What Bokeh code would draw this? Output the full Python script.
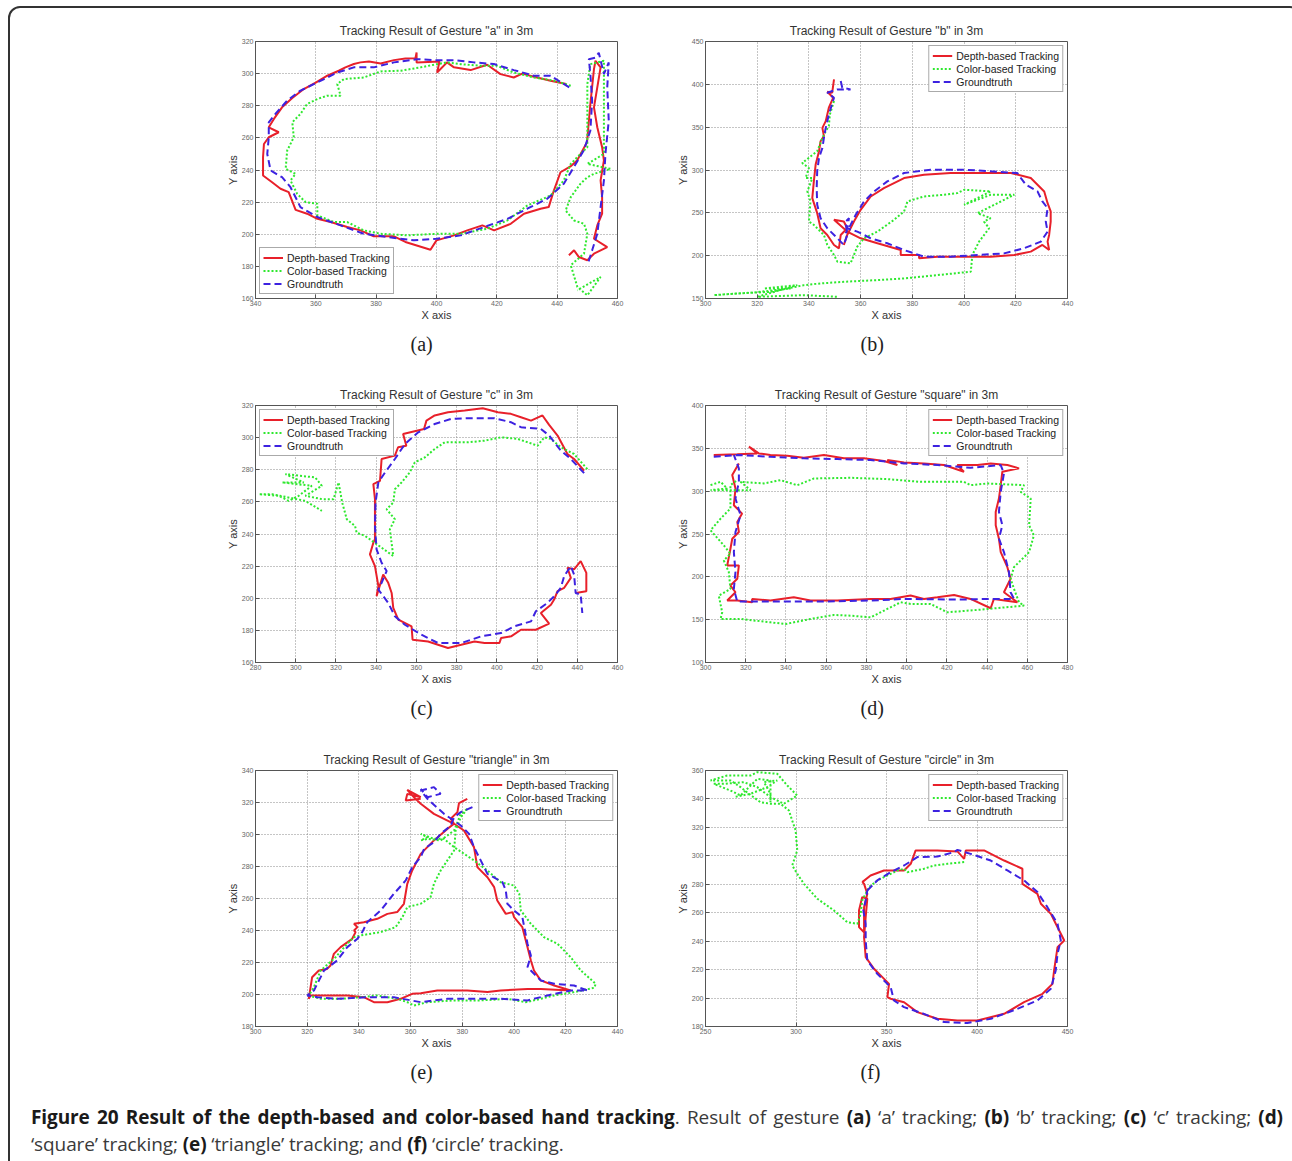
from bokeh.plotting import figure
from bokeh.layouts import column, row
from bokeh.models import Range1d, Legend, LegendItem, Title, Spacer, Div, FixedTicker
from bokeh.embed import file_html
from bokeh.resources import INLINE

# ---------------- data ----------------
a_depth = [(443,293.5),(437.8,295.6),(432.3,298),(428.4,300),(425.6,297.6),(421.2,299.7),(416.8,305.5),(411.3,302.2),(405.8,303.9),(403.5,307),(400.2,300.7),(401,307.5),(393.4,307),(393.4,313.2),(393,309.5),(389.7,309.4),(385.9,308.4),(381.5,306.3),(377.6,307.6),(374.8,307),(372.6,306),(369.8,303.9),(367.6,301.8),(363.8,298.7),(360.1,294.5),(356,290.4),(352.2,284.8),(348.8,279),(346.1,271.8),(344.4,266.6),(347.7,263.5),(344.4,260.4),(342.8,256.2),(342.5,248),(342.5,236.6),(345.5,232.4),(348.3,228.3),(351,226.2),(353.3,215.2),(357.1,212.8),(360.5,209.6),(364.9,207.6),(370.4,204.5),(374.8,202.4),(379.2,198.7),(385.9,198.7),(389.7,195.2),(398,190.4),(400,196.2),(405.8,199.3),(410.2,202.4),(415.2,205.5),(419.1,202.4),(424.6,206.5),(429,212.8),(434.5,215.9),(437.2,216.9),(438.9,227.2),(441.1,238.6),(444.4,242.2),(446.6,245.9),(449.9,257.3),(451,281.1),(452.2,302.8),(452.7,308),(454.4,303.9),(452.2,279),(453.3,266.6),(454.9,254.2),(455.5,245.9),(454.4,233.5),(454.9,223.1),(454.9,212.8),(453.3,205.5),(452.2,197.2),(456.6,192),(452.2,187.9),(450,183.8),(447.2,185.8),(445.6,190),(443.9,186.9)]
a_color = [(444.5,292.5),(439,295.6),(432.3,297.6),(425.6,300.7),(420,304.9),(414.6,304.9),(408,305.9),(403.5,307),(400.2,305.9),(394.7,303.9),(388.1,301.8),(381.5,301.4),(375.9,297.6),(369.3,296.6),(367.1,293.5),(368.2,286.3),(363.8,286.3),(360.5,284.2),(357.1,281.1),(354.9,274.9),(352.2,269.7),(352.7,260.4),(350.5,252.1),(350,240.7),(353.3,237.6),(351.6,233.5),(353.8,225.2),(356.6,220),(360.5,219),(360.5,211.7),(366,207.6),(370.4,207.6),(375.9,202.4),(381.5,200.3),(390.3,199.3),(400.2,200.3),(408,200.3),(416.8,203.4),(423.5,208.6),(430.1,217.9),(437.8,224.1),(442.2,233.5),(444.5,243.8),(447.7,250),(450,254.2),(450,272.8),(450,293.5),(451,305.9),(455.5,308),(455.5,285.2),(455.5,250),(450,243.8),(457.7,240.7),(452.2,237.6),(450,235.5),(447.7,231.4),(444.5,223.1),(442.8,214.8),(445.6,208.6),(448.9,206.5),(450,200.3),(448.9,187.9),(444.5,180.7),(446.7,167.2),(450,162),(454.4,173.4),(446.7,165.1)]
a_truth = [(444,291.4),(437.8,298.7),(432.3,298.7),(425.6,302.2),(419,306),(412.4,307),(405.8,308.4),(399.1,308.4),(393.6,309),(385.9,307),(379.2,303.9),(372.6,303.9),(367.1,300.7),(360.5,294.5),(354.9,289.4),(350.5,283.2),(346.6,274.9),(344.4,269.7),(344.4,260.4),(343.9,250),(345,239.7),(348.8,235.5),(351.6,229.3),(354.9,216.9),(360.5,210.7),(368.2,205.5),(375.9,200.3),(383.6,198.3),(392.5,196.2),(400,197.2),(408,199.3),(415.8,204.5),(423.5,209.6),(430.1,215.9),(436.7,222.1),(442.2,231.4),(445.5,241.7),(448.8,252.1),(451,264.5),(451.6,283.1),(451,299.7),(450.5,309),(452.7,310),(453.8,313),(455.5,299.7),(457.1,307),(456.6,291.4),(457.1,270.7),(456,250),(455.5,233.5),(454.4,216.9),(453.3,200.3),(451.6,190),(450,180.7)]

b_depth = [(349.7,405.9),(349,390.2),(347.1,391.4),(349.4,384.4),(347.7,372.7),(346.5,357),(345.2,349.2),(345.8,339.5),(344.5,333.6),(343.9,321.9),(342.6,306.3),(341.9,286.7),(341.3,267.2),(343.2,249.6),(344.5,232),(347.1,224.2),(349.7,212.5),(351.6,208.6),(352.3,224.2),(354.8,232),(353.5,239.8),(349.7,241.8),(354.8,228.1),(360,220.3),(366.5,214.5),(375.5,206.6),(375.5,200.8),(382.6,200.8),(382.6,196.9),(389.7,198.8),(400,198.8),(410.3,198.8),(419.4,200.8),(425.8,204.7),(430.3,212.5),(432.9,206.6),(432.3,216.4),(432.9,224.2),(433.5,239.8),(433.5,251.6),(432.3,261.3),(431,275),(425.8,290.6),(418.1,296.5),(407.7,296.5),(394.8,296.5),(384.5,294.5),(376.8,290.6),(369,278.9),(363.9,269.1),(360,253.5),(357.4,239.8),(354.8,224.2),(353.5,212.5)]
b_color = [(349.7,380.5),(348.1,364.8),(347.7,351.2),(345.8,341.4),(343.2,321.9),(337.4,308.2),(340,302.3),(338.7,290.6),(341.3,290.6),(339.4,275),(340.6,263.3),(340,239.8),(341.9,235.9),(345.8,224.2),(347.1,212.5),(349.7,200.8),(351,193),(356.1,191),(357.4,200.8),(358.7,210.5),(361.3,220.3),(366.5,228.1),(372.9,241.8),(376.8,251.6),(378.1,263.3),(384.5,269.1),(392.3,271.1),(397.4,273),(400,276.9),(410.3,275),(400,259.4),(410.3,271.1),(419.4,271.1),(405.2,249.6),(410.3,243.8),(407.7,239.8),(409.7,232),(405.8,216.4),(403.2,200.8),(402.6,181.3),(389.7,177.3),(376.8,173.4),(366.5,171.5),(353.5,169.5),(344.5,167.6),(338.1,165.6),(325.2,157.8),(312.3,155.9),(303.2,153.9),(318.7,157),(332.9,161.7),(322.6,161.7),(335.5,165.6),(320,152),(338.1,153.9),(351,152)]
b_truth = [(352.3,403.9),(352.9,396.1),(356.1,394.1),(351,394.1),(347.1,390.2),(349.7,384.4),(347.7,364.8),(346.5,349.2),(345.8,337.5),(345.2,325.8),(343.9,314.1),(343.2,298.4),(343,278.9),(343.2,259.4),(344.5,243.8),(347.1,232),(351,220.3),(353.5,212.5),(354.8,224.2),(354.2,239.8),(355.5,243.8),(354.8,232),(358.7,228.1),(363.9,220.3),(370.3,214.5),(376.8,206.6),(384.5,198.8),(394.8,198.8),(405.2,200.8),(415.5,202.7),(423.2,208.6),(429.7,216.4),(432.3,228.1),(431.6,239.8),(432.3,255.5),(430.3,263.3),(428.4,275),(423.9,282.8),(422,290.6),(420.6,296.5),(410.3,298.4),(400,300.4),(387.1,300.4),(376.8,296.5),(370.3,286.7),(365.2,275),(361.3,263.3),(358.1,247.7),(356.1,235.9),(354.2,226.2)]

c_depth = [(443.4,279.4),(438.4,286.7),(435.1,289.8),(430.2,301.3),(426,307.9),(422.7,313.8),(417,310.6),(412,312.7),(407,314.8),(400.5,315.8),(393,318.3),(384,316.9),(375.7,315.8),(369.1,313.8),(365,310.6),(363.8,305.4),(353.4,302.3),(355,295),(350.9,294),(349.3,288.8),(342.7,286.7),(341.9,273.1),(338.6,271),(339.4,261.7),(339.4,249.2),(339.4,236.7),(338.6,234.6),(336.9,227.3),(339.4,220),(341.1,207.5),(340.2,201.3),(343.5,214.8),(346,209.6),(347.7,203.3),(348.5,194),(351,186.7),(357.6,182.5),(358.1,174.2),(365.8,173.1),(375.7,169),(382.3,171),(388.9,173.1),(393.9,172.1),(401.3,172.1),(402.1,175.2),(407.1,176.3),(412,180.4),(419.4,180.4),(426,184.2),(421.9,190.8),(426.9,196),(428.5,199.2),(430.2,204.4),(433.5,206.5),(436.8,212.7),(435.1,219),(438.4,218),(441.7,223.1),(444.5,215.8),(444.5,204.4),(439.2,203.3)]
c_color = [(445,280.4),(438.4,289.8),(431.8,294),(426.9,299.2),(423.6,300.2),(420.3,295),(415.3,297.1),(410.4,299.2),(402.1,300.2),(393.9,298.1),(385.6,297.1),(374.1,297.1),(369.1,292.9),(364.2,287.7),(359.2,284.6),(356.7,278.3),(352.6,272.1),(349.3,267.9),(348.5,259.6),(345.2,255.4),(349.3,249.2),(346.8,242.9),(348.5,226.3),(334.5,238.8),(330.3,240.8),(329.5,245),(325.4,249.2),(323.1,259.6),(321.3,272.1),(318.8,261.7),(313,261.7),(304.8,263.8),(313,270),(309.7,275.2),(294.9,277.3),(304,272.1),(293.2,272.1),(308,270),(301.5,263.8),(296.5,260.6),(291.6,263.8),(281.7,264.8),(288.3,264.8),(304.8,260.6),(313,254.4)]
c_truth = [(443.4,277.9),(436.8,286.7),(431.8,291.9),(426,301.3),(421.9,305.4),(412,306.5),(407,309.6),(398.8,312.1),(385.6,312.1),(377.4,311.7),(369.1,308.5),(360.9,303.3),(354.3,296),(349.3,286.7),(344.4,278.3),(341.1,272.1),(339.7,259.6),(339.4,245),(340.2,230.4),(342.7,222.1),(345.2,216.9),(342.7,209.6),(341.1,205.4),(346,197.1),(349.3,188.8),(354.3,183.5),(362.5,177.3),(370.8,172.1),(382.3,172.1),(392.2,176.3),(402.1,178.3),(408.7,182.5),(417,185.6),(419.4,191.9),(425.2,197.1),(429.3,202.3),(431.8,206.5),(433.5,213.8),(436.8,220),(438.4,214.8),(439.2,203.3),(441.7,202.3),(442.5,190.8)]

d_depth = [(304.1,342.2),(315.8,343),(325.7,344.1),(321.6,352),(326.5,344.1),(332.3,342.2),(340.6,341.4),(348.9,339.1),(358.9,342.2),(368.8,338.3),(378.8,338.3),(388.7,335.2),(395.4,330.5),(390.4,336.3),(398.7,333.6),(408.6,332.4),(418.6,330.5),(428.5,322.7),(425.2,330.5),(435.2,330.5),(441.8,332.4),(450.1,330.5),(455.9,326.6),(447.6,322.7),(446.8,307),(445.9,291.4),(444.3,275.8),(444.3,260.2),(445.9,244.5),(446.8,228.9),(450.1,211.3),(451.7,197.7),(448.4,182),(455.1,170.3),(443.4,174.2),(441.8,163.3),(431.8,174.2),(423.6,178.9),(415.3,176.2),(408.6,174.2),(402,178.1),(392,174.2),(382.1,174.2),(365.5,172.3),(352.2,172.3),(343.9,176.2),(332.3,172.3),(323.2,174.2),(323.2,170.3),(315.8,172.3),(310.8,172.3),(314.9,182),(312.4,189.8),(315.8,197.7),(316.6,213.3),(310.8,213.3),(312.4,232.8),(313.3,244.5),(316.6,252.3),(315.8,264.1),(318.2,273.8),(314.1,283.6),(314.9,303.1),(313.3,318.8),(316.6,332.4)]
d_color = [(302.5,307),(307.5,310.9),(310.8,303.1),(302.5,301.2),(322.4,301.2),(317.4,310.9),(329,309),(337.3,312.9),(345.6,307),(353.9,314.8),(372.1,315.6),(390.4,314.1),(406.9,310.9),(428.5,310.9),(431.8,307),(440.1,309),(458.4,307),(456.7,299.2),(461.7,291.4),(460.9,260.2),(463.3,248.4),(460.9,228.9),(453.4,211.3),(451.7,197.7),(453.4,185.9),(455.9,170.3),(458.4,166.4),(436.8,161.7),(420.2,158.6),(411.9,168.4),(402,168.4),(397,170.3),(390.4,162.5),(382.1,152.7),(372.1,154.7),(363.8,155.5),(352.2,150.8),(339.8,144.9),(332.3,146.9),(317.4,150.8),(307.5,150.8),(308.3,158.6),(306.6,178.1),(312.4,185.9),(311.6,205.5),(309.1,219.1),(312.4,227),(309.1,236.7),(302.5,254.3),(307.5,268),(312.4,279.7),(312.4,307),(315.8,312.9)]
d_truth = [(304.1,340.2),(315.8,342.2),(332.3,340.2),(348.9,338.3),(365.5,337.5),(382.1,336.3),(398.7,332.4),(415.3,330.5),(431.8,327.3),(446.8,330.5),(448.4,320.7),(446.8,299.2),(445.9,275.8),(447.6,260.2),(445.9,244.5),(448.4,228.9),(450.9,205.5),(451.7,182),(453.4,174.2),(441.8,174.2),(425.2,173.4),(398.7,174.2),(382.1,172.3),(357.2,171.1),(332.3,171.1),(315.8,171.1),(314.1,185.9),(314.9,205.5),(314.1,228.9),(314.9,252.3),(317.4,271.9),(314.9,291.4),(316.6,310.9),(316.6,326.6),(314.1,342.2)]

e_depth = [(381.9,322.3),(378.7,319.6),(378.1,314),(375.5,309.8),(376.8,306.7),(380.6,302.5),(384.5,292.1),(385.8,279.6),(389.7,273.3),(392.3,267.1),(393.5,258.8),(396.8,250.4),(399.4,251.5),(400,248.3),(403.2,242.1),(405.2,229.6),(406.5,221.3),(407.7,215),(410.3,208.8),(415.5,205.6),(421.9,202.5),(410.3,203.5),(405.2,203.5),(394.8,202.5),(389.7,201.5),(381.9,202.5),(376.8,202.5),(370.3,202.5),(363.9,200.8),(360.6,200.4),(356.1,197.3),(351,195.2),(345.8,195.2),(341.9,198.3),(335.5,199.4),(327.7,199.4),(321.3,199.4),(320.6,197.3),(321.9,210.8),(324.5,215),(327.7,216),(329,218.1),(330.3,225.4),(332.9,229.6),(337.4,234.8),(338.7,239),(338.1,240),(339.4,242.1),(338.1,244.2),(341.9,245.2),(347.1,247.3),(351,250.4),(354.8,251.5),(357.4,256.7),(358.7,269.2),(360.6,277.5),(363.9,287.9),(369,296.3),(374.2,303.5),(376.8,306.7),(369,312.9),(363.9,319.2),(361.3,323.3),(358.7,327.9),(363.9,323.3),(358.7,325.4),(358.1,321.3),(363.9,322.3)]
e_color = [(381.9,316),(379.4,310.8),(377.4,302.5),(376.8,290),(374.2,283.8),(371.6,277.5),(369,269.2),(367.7,260.8),(363.9,256.7),(358.7,254.6),(356.8,248.3),(354.2,242.1),(348.4,239),(340.6,236.9),(338.1,235.8),(335.5,231.7),(331,223.3),(325.2,215),(322.6,204.6),(320.6,199.4),(325.2,197.3),(332.9,197.3),(340.6,198.3),(347.1,199.4),(354.8,197.3),(358.7,195.2),(361.3,193.1),(366.5,195.2),(376.8,196.3),(387.1,196.3),(397.4,197.3),(404.5,195.2),(410.3,197.3),(415.5,199.4),(423.2,201.5),(431,204.2),(431.6,206.7),(425.8,215),(421.9,223.3),(416.8,231.7),(411.6,235.8),(406.5,244.2),(402.6,252.5),(402,262.9),(400,268.1),(394.8,270.2),(389.7,277.5),(384.5,283.8),(376.8,292.1),(372.9,297.3),(369,297.3),(363.9,300.4),(366.5,298.3),(363.9,296.3),(366.5,297.3),(371.6,296.3),(376.8,302.5),(379.4,312.9),(381.9,316)]
e_truth = [(383.9,317.1),(379.4,314),(376.8,310.8),(375.5,305.6),(371.6,300.4),(369,295.2),(365.2,291),(363.9,285.8),(360.6,279.6),(358.1,271.3),(353.5,262.9),(348.4,252.5),(343.2,245.2),(341.3,239),(339.4,234.8),(335.5,229.6),(331.6,221.3),(326.5,215),(323.9,206.7),(322.6,202.5),(320,199.4),(323.9,198.3),(331.6,197.3),(343.2,198.3),(353.5,198.3),(363.9,195.2),(374.2,197.3),(384.5,197.3),(394.8,197.3),(405.2,196.3),(412.9,199.4),(421.9,202.5),(428.4,202.5),(423.2,205.6),(415.5,206.7),(410.3,208.8),(405.2,217.1),(406.5,224.4),(405.2,231.7),(403.2,248.3),(400,252.5),(397.4,256.7),(396.8,265),(395.5,270.2),(389.7,275.4),(387.1,283.8),(384.5,292.1),(382.6,300.4),(379.4,305.6),(372.9,312.9),(366.5,322.3),(363.9,327.5),(369,329.6),(371.6,325.4),(366.5,323.3),(363.9,328.5)]

f_depth = [(336.6,281.5),(341.2,286.2),(348.6,289.7),(359.7,289.7),(363.4,294.4),(366.1,303.8),(378.1,303.8),(389.2,303.1),(392.9,297.9),(393.8,303.8),(403.9,303.8),(415,296.7),(425.1,290.9),(425.1,280.3),(433.4,273.3),(435.3,266.3),(440.8,259.2),(445.4,247.5),(448.2,240.5),(444.5,235.8),(442.6,219.4),(441.7,210),(436.2,203),(426,197.1),(415,188.9),(400.2,184.2),(389.2,184.2),(378.1,185.4),(367,190.1),(359.7,197.1),(352.3,199.5),(350.5,200.6),(351.4,210),(347.7,214.7),(343.1,220.6),(338.5,228.8),(337.6,242.8),(338.5,256.9),(339.4,269.8),(336.6,271),(334.8,261.6),(334.8,249.9),(337.6,246.3),(337.6,263.9),(339.4,273.3),(337.6,280.3),(336.6,281.5)]
f_color = [(392.9,295.6),(383.6,294.4),(376.3,293.2),(370.7,290.9),(361.5,288.5),(359.7,290.9),(356,289.7),(350.5,286.2),(344.9,282.7),(340.3,278),(336.6,268.6),(335.7,259.2),(333.9,252.2),(328.3,253.4),(321,261.6),(311.8,269.8),(304.4,280.3),(300.7,287.3),(297.9,293.2),(300.7,303.8),(299.8,317.8),(297.9,324.8),(296.1,331.9),(291.5,336.6),(285.9,336.6),(280.4,337.7),(274,343.6),(269.4,348.3),(263.8,353),(252.8,353),(262,356.5),(274.9,356.5),(278.6,358.8),(289.6,357.7),(295.2,349.5),(300.7,342.4),(293.3,336.6),(285.9,341.3),(278.6,348.3),(271.2,351.8),(260.1,350.6),(254.6,350.6),(263.8,345.9),(269.4,342.4),(278.6,354.1),(285.9,353),(285.9,337.7),(285.9,343.6),(282.3,351.8),(289.6,353),(284.1,348.3),(274.9,343.6),(265.7,341.3)]
f_truth = [(339.4,275.6),(344.9,282.7),(352.3,288.5),(359.7,293.2),(367,299.1),(378.1,299.5),(387.3,302.6),(389.2,304.2),(396.5,301.4),(407.6,296.7),(416.8,289.7),(426,282.7),(433.4,274.5),(438.9,263.9),(444.5,252.2),(446.3,240.5),(444.5,231.1),(443.5,219.4),(440.8,206.5),(433.4,198.3),(422.3,192.4),(407.6,185.4),(394.7,182.4),(381.8,183.1),(370.7,188.9),(359.7,193.6),(354.1,198.3),(352.3,207.7),(348.6,212.4),(344.9,217),(339.4,226.4),(338.5,240.5),(338.5,252.2),(337.2,261.6),(338.5,268.6),(339.4,275.6)]

gestures = ["a", "b", "c", "square", "triangle", "circle"]
panel_labels = ["(a)", "(b)", "(c)", "(d)", "(e)", "(f)"]
x_ranges = [(340, 460), (300, 440), (280, 460), (300, 480), (300, 440), (250, 450)]
y_ranges = [(160, 320), (150, 450), (160, 320), (100, 400), (180, 340), (180, 360)]
x_steps = [20, 20, 20, 20, 20, 50]
y_steps = [20, 50, 20, 50, 20, 20]
legend_locs = ["bottom_left", "top_right", "top_left", "top_right", "top_right", "top_right"]
series = [(a_depth, a_color, a_truth), (b_depth, b_color, b_truth), (c_depth, c_color, c_truth),
          (d_depth, d_color, d_truth), (e_depth, e_color, e_truth), (f_depth, f_color, f_truth)]
series_names = ["Depth-based Tracking", "Color-based Tracking", "Groundtruth"]

# ---------------- style ----------------
RED = "#e8202a"
GREEN = "#2ee82e"
BLUE = "#3d22e0"
FONT = "Liberation Sans"

ROW_GEOM = [(366, 33, 76), (365, 31, 77), (361, 31, 74)]  # height, border top, border bottom


def make_panel(i):
    h, mbt, mbb = ROW_GEOM[i // 2]
    xr, yr = x_ranges[i], y_ranges[i]
    p = figure(width=450, height=h, x_range=Range1d(*xr), y_range=Range1d(*yr),
               output_backend="svg", toolbar_location=None,
               min_border_top=mbt, min_border_bottom=mbb, min_border_left=55, min_border_right=33)
    p.title.text = 'Tracking Result of Gesture "%s" in 3m' % gestures[i]
    p.title.align = "center"
    p.title.text_font = FONT
    p.title.text_font_size = "12px"
    p.title.text_font_style = "normal"
    p.title.text_color = "#333333"
    p.title.standoff = 7
    p.outline_line_color = "#555555"
    p.outline_line_width = 1
    xt = list(range(xr[0], xr[1] + 1, x_steps[i]))
    yt = list(range(yr[0], yr[1] + 1, y_steps[i]))
    p.xaxis.ticker = FixedTicker(ticks=xt)
    p.yaxis.ticker = FixedTicker(ticks=yt)
    p.xaxis.axis_label = "X axis"
    p.yaxis.axis_label = "Y axis"
    for ax in (p.xaxis, p.yaxis):
        ax.axis_label_text_font = FONT
        ax.axis_label_text_font_size = "11px"
        ax.axis_label_text_font_style = "normal"
        ax.axis_label_text_color = "#333333"
        ax.axis_label_standoff = 0
        ax.major_label_text_font = FONT
        ax.major_label_text_font_size = "7px"
        ax.major_label_text_color = "#666666"
        ax.major_label_standoff = 2
        ax.major_tick_in = 4
        ax.major_tick_out = 0
        ax.major_tick_line_color = "#555555"
        ax.minor_tick_line_color = None
        ax.axis_line_color = "#555555"
    p.xgrid.grid_line_color = "#8a8a8a"
    p.ygrid.grid_line_color = "#8a8a8a"
    p.xgrid.grid_line_dash = "1 2"
    p.ygrid.grid_line_dash = "1 2"
    depth, color, truth = series[i]
    r1 = p.line([q[0] for q in depth], [q[1] for q in depth], line_color=RED, line_width=2)
    r2 = p.line([q[0] for q in color], [q[1] for q in color], line_color=GREEN, line_width=2, line_dash="2 2")
    r3 = p.line([q[0] for q in truth], [q[1] for q in truth], line_color=BLUE, line_width=2, line_dash="7 4")
    legend = Legend(items=[LegendItem(label=series_names[0], renderers=[r1]),
                           LegendItem(label=series_names[1], renderers=[r2]),
                           LegendItem(label=series_names[2], renderers=[r3])],
                    location=legend_locs[i])
    legend.border_line_color = "#555555"
    legend.border_line_width = 1
    legend.background_fill_color = "white"
    legend.background_fill_alpha = 1
    legend.margin = 4
    legend.padding = 3
    legend.spacing = 0
    legend.label_height = 13
    legend.glyph_height = 13
    legend.glyph_width = 20
    legend.label_standoff = 4
    legend.label_text_font = FONT
    legend.label_text_font_size = "10.5px"
    legend.label_text_color = "#222222"
    legend.label_text_baseline = "middle"
    p.add_layout(legend)
    lab = Title(text=panel_labels[i], align="left", offset=155, standoff=15,
                text_font="Liberation Serif", text_font_size="20px",
                text_font_style="normal", text_color="#222222")
    p.add_layout(lab, "below")
    return p


panels = [make_panel(i) for i in range(6)]
rows = []
for k in range(3):
    h = ROW_GEOM[k][0]
    rows.append(row(Spacer(width=190, height=h), panels[2 * k], panels[2 * k + 1]))

B = '<b style="color:#1a1a1a">'
caption_html = (
    '<div style="font-family:\'Open Sans\', sans-serif;font-size:19px;line-height:27px;'
    'color:#3a3a3a;width:1252px;margin-top:-1px;letter-spacing:-0.1px">'
    '<div style="text-align:justify;text-align-last:justify;white-space:nowrap">'
    + B + 'Figure 20 Result of the depth-based and color-based hand tracking</b>. '
    'Result of gesture ' + B + '(a)</b> &lsquo;a&rsquo; tracking; '
    + B + '(b)</b> &lsquo;b&rsquo; tracking; '
    + B + '(c)</b> &lsquo;c&rsquo; tracking; ' + B + '(d)</b></div>'
    '<div>&lsquo;square&rsquo; tracking; ' + B + '(e)</b> &lsquo;triangle&rsquo; tracking; '
    'and ' + B + '(f)</b> &lsquo;circle&rsquo; tracking.</div></div>'
)
caption = Div(text=caption_html, width=1264, height=70)
cap_row = row(Spacer(width=16, height=70), caption)

root = column(*rows, cap_row, margin=(6, 0, 0, 8),
              styles={"border": "2px solid #333333", "border-radius": "12px"})

open("out.html", "w").write(file_html(root, INLINE))
